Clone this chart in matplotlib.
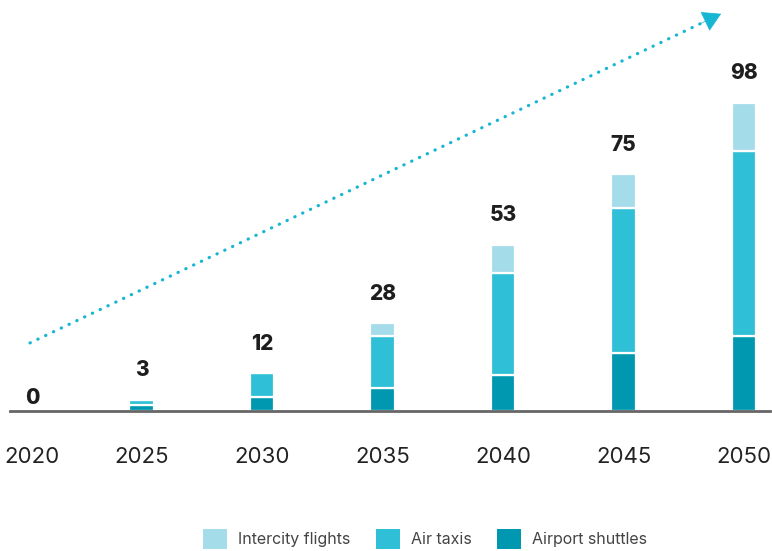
import numpy as np
import matplotlib.pyplot as plt
from matplotlib.patches import Patch
from matplotlib.transforms import ScaledTranslation

plt.rcParams['font.family'] = ['Inter', 'DejaVu Sans']

years = ['2020', '2025', '2030', '2035', '2040', '2045', '2050']
totals = [0, 3, 12, 28, 53, 75, 98]
shuttles = [0, 2, 4.6, 7.2, 11.6, 18.6, 24]
taxis = [0, 1.6, 7.4, 16.8, 32.4, 46, 59]
intercity = [0, 0, 0, 4, 9, 10.8, 15.2]

series = ['Airport shuttles', 'Air taxis', 'Intercity flights']
colors = {'Intercity flights': '#a4dcea', 'Air taxis': '#2fbfd7', 'Airport shuttles': '#0098b1'}

# trend arrow (data coords)
arrow_start = (0.075, 21.7)
arrow_end = (5.81, 126.6)

fig = plt.figure(figsize=(7.72, 5.51), dpi=100)
ax = fig.add_axes([10 / 772, 140 / 551, 760 / 772, 411 / 551])

x = np.arange(len(years))
w = 0.205
bottom = np.zeros(len(years))
for name, vals in zip(series, [shuttles, taxis, intercity]):
    vals = np.array(vals)
    ax.bar(x, vals, w, bottom=bottom, color=colors[name], edgecolor='white', linewidth=1.6, zorder=2)
    bottom += vals

ax.set_xlim(-11 / 120.5, 749 / 120.5)
ax.set_ylim(0, 131)

# value labels (first one nudged right like the tick label, and sits lower)
for i, t in enumerate(totals):
    top = shuttles[i] + taxis[i] + intercity[i]
    dx, dy = (8, 2) if i == 0 else (0, 14)
    ax.annotate(str(t), (x[i], top), xytext=(dx, dy), textcoords='offset points',
                ha='center', va='bottom', fontsize=15, fontweight='heavy', color='#1e1e1e')

# dotted trend line + solid head
head_from = (arrow_start[0] + 0.97 * (arrow_end[0] - arrow_start[0]),
             arrow_start[1] + 0.97 * (arrow_end[1] - arrow_start[1]))
ax.plot([arrow_start[0], head_from[0]], [arrow_start[1], head_from[1]], color='#17b6d3',
        linestyle=(0, (0.1, 2.6)), linewidth=2.3, dash_capstyle='round', zorder=1)
ax.annotate('', xy=arrow_end, xytext=head_from,
            arrowprops=dict(arrowstyle='-|>,head_length=1.2,head_width=0.7', color='#17b6d3',
                            linewidth=0.5, shrinkA=0, shrinkB=0))

shift = ScaledTranslation(11 / 100, 0, fig.dpi_scale_trans)
ax.set_xticks(x)
ax.set_xticklabels(years, fontsize=16, color='#222222')
ax.tick_params(axis='x', length=0, pad=26)
ax.get_xticklabels()[0].set_transform(ax.get_xticklabels()[0].get_transform() + shift)
ax.set_yticks([])
for s in ['top', 'right', 'left']:
    ax.spines[s].set_visible(False)
ax.spines['bottom'].set_color('#666666')
ax.spines['bottom'].set_linewidth(2)
ax.spines['bottom'].set_zorder(3)

handles = [Patch(facecolor=colors[n], edgecolor='none') for n in ['Intercity flights', 'Air taxis', 'Airport shuttles']]
fig.legend(handles, ['Intercity flights', 'Air taxis', 'Airport shuttles'], loc='center',
           bbox_to_anchor=(425 / 772, 1 - 539 / 551), ncol=3, frameon=False, fontsize=11.5,
           handlelength=1.5, handleheight=1.5, handletextpad=0.7, columnspacing=1.6,
           labelcolor='#444444')

fig.savefig('out.png', dpi=100)
